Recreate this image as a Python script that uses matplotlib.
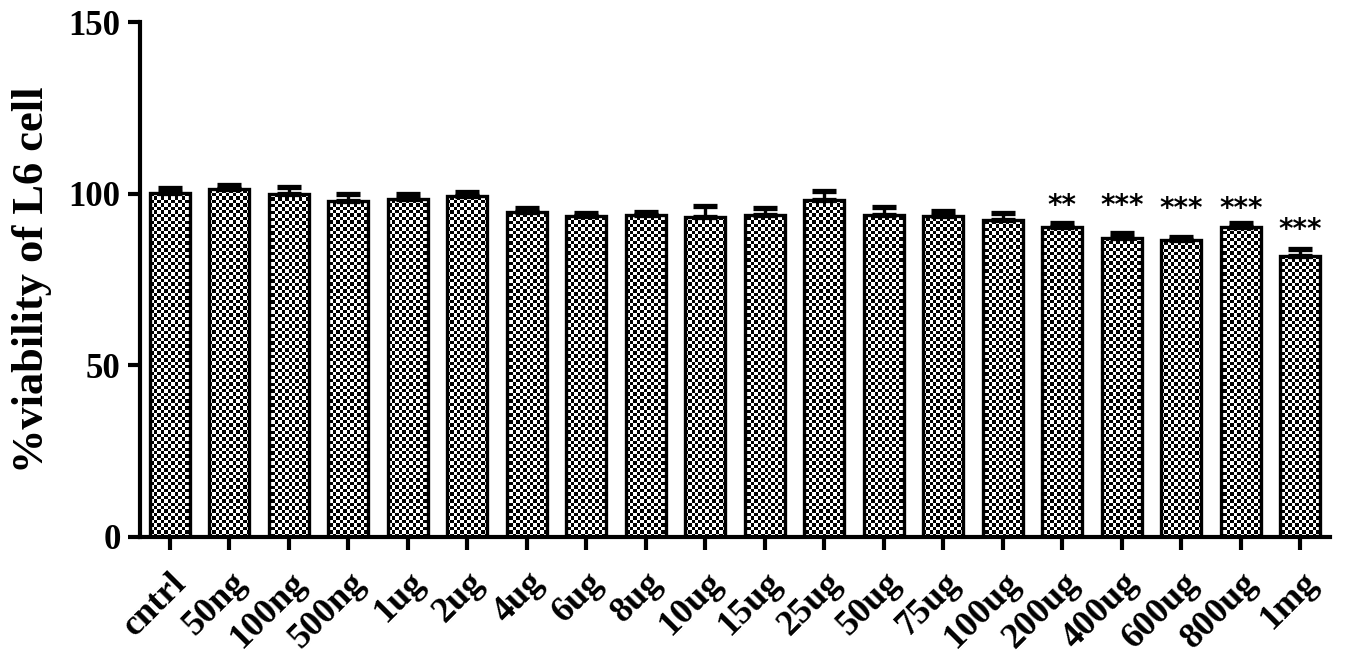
import numpy as np
import matplotlib
matplotlib.use("Agg")
import matplotlib.pyplot as plt

# ---------------------------------------------
# data
# ---------------------------------------------
doses = ['cntrl', '50ng', '100ng', '500ng', '1ug', '2ug', '4ug', '6ug', '8ug',
         '10ug', '15ug', '25ug', '50ug', '75ug', '100ug', '200ug', '400ug',
         '600ug', '800ug', '1mg']
viability = [100.3, 101.4, 99.9, 97.9, 98.5, 99.4, 94.8, 93.5, 93.8, 93.3,
             93.8, 98.2, 93.8, 93.6, 92.3, 90.2, 87.1, 86.5, 90.4, 81.8]
sem = [1.3, 1.1, 1.9, 1.9, 1.4, 1.0, 0.9, 1.0, 1.0, 3.2,
       1.9, 2.7, 2.4, 1.4, 2.2, 1.4, 1.4, 1.0, 1.0, 2.0]
stars = ['', '', '', '', '', '', '', '', '', '', '', '', '', '', '',
         '**', '***', '***', '***', '***']
star_y = [0] * 15 + [96.5, 96.5, 95.6, 95.6, 89.5]

plt.rcParams['font.family'] = 'Liberation Serif'
plt.rcParams['font.weight'] = 'bold'

fig = plt.figure(figsize=(13.5, 6.61), dpi=100)
ax = fig.add_axes([0.1037, 0.1876, 0.8815, 0.7791])

x = np.arange(len(doses))
ax.set_xlim(-0.5, len(doses) - 0.5)
ax.set_ylim(0, 150)

# bars: white base, checker fill clipped to each bar, black outline on top
bars = ax.bar(x, viability, width=0.67, color='white', edgecolor='none', zorder=1)

ny, nx = 150, 345
checker = (np.indices((ny, nx)).sum(axis=0) % 2).astype(float)
for b in bars:
    im = ax.imshow(checker, cmap='gray', vmin=0, vmax=1, interpolation='nearest',
                   extent=(-0.5, len(doses) - 0.5, 0, 150), aspect='auto',
                   origin='lower', zorder=2)
    im.set_clip_path(b)

ax.bar(x, viability, width=0.67, fill=False, edgecolor='black', linewidth=2.4, zorder=3)

ax.errorbar(x, viability, yerr=[np.zeros(len(sem)), sem], fmt='none',
            ecolor='black', elinewidth=2.4, capsize=8.5, capthick=3.8, zorder=4)

for xi, s, sy in zip(x, stars, star_y):
    if s:
        ax.text(xi, sy, s, ha='center', va='center', fontsize=20,
                family='DejaVu Sans', fontweight='bold')

# axes styling
ax.spines['top'].set_visible(False)
ax.spines['right'].set_visible(False)
ax.spines['left'].set_linewidth(3)
ax.spines['bottom'].set_linewidth(3)
ax.set_yticks([0, 50, 100, 150])
ax.tick_params(axis='y', length=9, width=3, labelsize=25, pad=5)
ax.tick_params(axis='x', length=9, width=3, labelsize=26, pad=12)
ax.set_xticks(x)
ax.set_xticklabels(doses, rotation=45, ha='right', rotation_mode='anchor')
for lbl in ax.get_xticklabels() + ax.get_yticklabels():
    lbl.set_fontweight('bold')

ax.set_ylabel('%viability of L6 cell', fontsize=32, fontweight='bold', labelpad=12)

fig.savefig('out.png', dpi=100)
